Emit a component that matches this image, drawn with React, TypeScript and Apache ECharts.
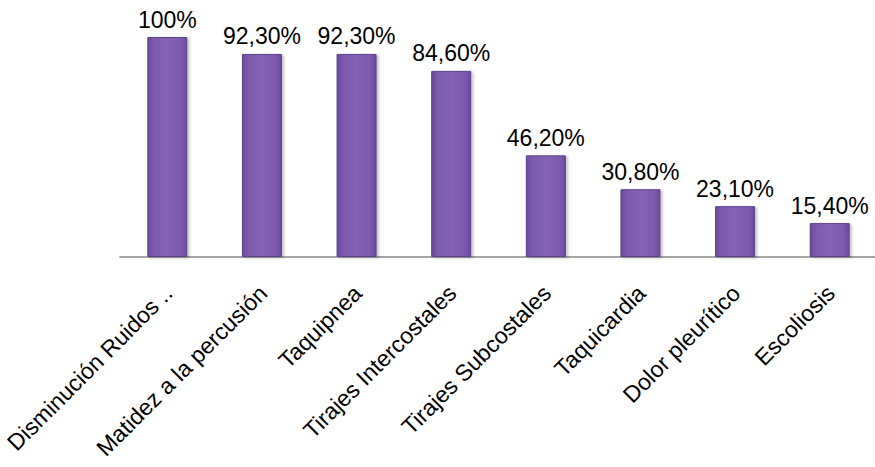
import React, { useEffect, useRef } from "react";
import * as echarts from "echarts";

const categories = [
  "Disminución Ruidos ..",
  "Matidez a la percusión",
  "Taquipnea",
  "Tirajes Intercostales",
  "Tirajes Subcostales",
  "Taquicardia",
  "Dolor pleurítico",
  "Escoliosis",
];
const values = [100, 92.3, 92.3, 84.6, 46.2, 30.8, 23.1, 15.4];
const valueLabels = ["100%", "92,30%", "92,30%", "84,60%", "46,20%", "30,80%", "23,10%", "15,40%"];

export default function App() {
  const ref = useRef<HTMLDivElement>(null);
  useEffect(() => {
    if (!ref.current) return;
    const chart = echarts.init(ref.current, null, { renderer: "svg" });
    const font = "'Liberation Sans', Arial, sans-serif";
    chart.setOption({
      animation: false,
      grid: { left: 120, top: 37, width: 757, height: 220, outerBoundsMode: "none", containLabel: false },
      xAxis: {
        type: "category",
        data: categories,
        axisLine: { lineStyle: { color: "#a6a6a6", width: 2 } },
        axisTick: { show: false },
        axisLabel: {
          rotate: 45,
          interval: 0,
          margin: 17,
          verticalAlign: "top",
          padding: [0, 10, 0, 0],
          fontFamily: font,
          fontSize: 23,
          color: "#000",
        },
      },
      yAxis: { type: "value", min: 0, max: 100, show: false },
      series: [
        {
          type: "bar",
          data: values,
          barWidth: 40,
          itemStyle: {
            color: new echarts.graphic.LinearGradient(0, 0, 1, 0, [
              { offset: 0, color: "#6a4a9a" },
              { offset: 0.15, color: "#7e5aae" },
              { offset: 0.5, color: "#8662b6" },
              { offset: 0.85, color: "#7e5aae" },
              { offset: 1, color: "#6a4a9a" },
            ]),
            borderColor: "#5f428c",
            borderWidth: 1,
            shadowColor: "rgba(0,0,0,0.25)",
            shadowBlur: 3,
            shadowOffsetX: 2,
            shadowOffsetY: 1,
          },
          label: {
            show: true,
            position: "top",
            distance: 6,
            fontFamily: font,
            fontSize: 23,
            color: "#000",
            formatter: (p: any) => valueLabels[p.dataIndex],
          },
        },
      ],
    });
    return () => chart.dispose();
  }, []);
  return (
    <div
      ref={ref}
      style={{ position: "fixed", left: 0, top: 0, width: 875, height: 467, background: "#fff" }}
    />
  );
}
